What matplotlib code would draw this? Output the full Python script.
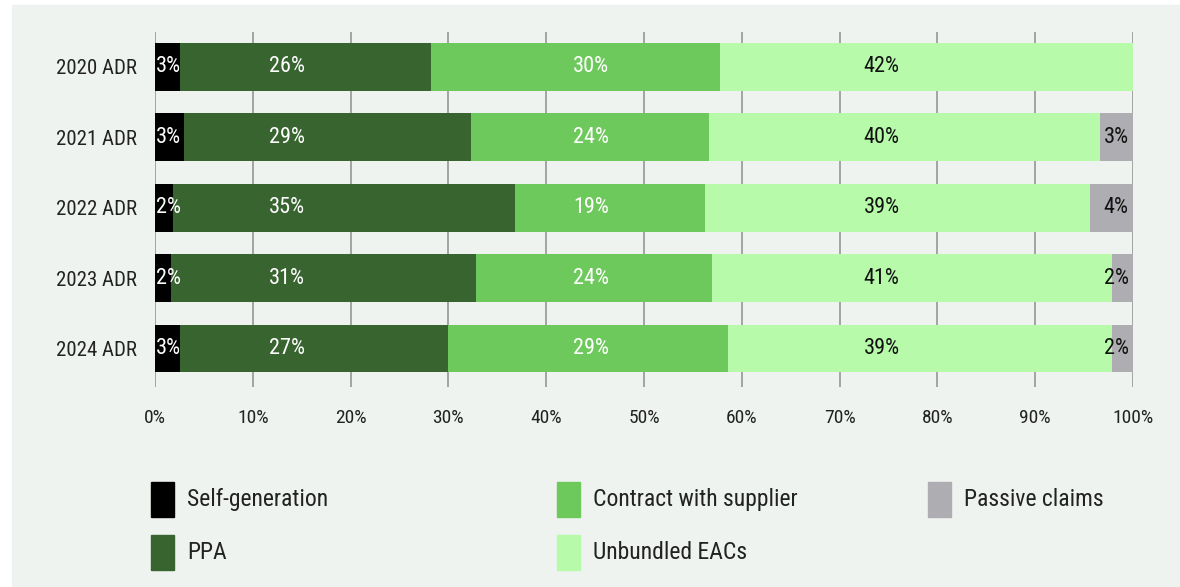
import matplotlib
matplotlib.use("Agg")
import matplotlib.pyplot as plt
from matplotlib.patches import Rectangle
import numpy as np

plt.rcParams['font.family'] = ['Roboto Condensed', 'Noto Sans Condensed', 'Open Sans Condensed', 'Roboto', 'DejaVu Sans']

years = ["2020 ADR", "2021 ADR", "2022 ADR", "2023 ADR", "2024 ADR"]
sources = ["Self-generation", "PPA", "Contract with supplier", "Unbundled EACs", "Passive claims"]

# share of each sourcing route per year, in %
self_gen = [2.6, 3.0, 1.8, 1.6, 2.6]
ppa = [25.6, 29.3, 35.0, 31.2, 27.4]
contract = [29.6, 24.3, 19.4, 24.2, 28.6]
unbundled = [42.2, 40.0, 39.4, 40.9, 39.3]
passive = [0.0, 3.4, 4.4, 2.1, 2.1]

ticks = np.arange(0, 101, 10)
tick_labels = [f"{t}%" for t in ticks]

colors = ["#000000", "#386430", "#6ec95c", "#b7fbaa", "#adadb2"]
text_colors = ["white", "white", "white", "#111111", "#111111"]
label_x = [1.4, 13.5, 44.6, 74.3, 98.3]

bg = "#eff3f0"
W, H = 1180, 587

fig = plt.figure(figsize=(11.8, 5.87), dpi=100, facecolor="white")
fig.add_artist(Rectangle((12 / W, 0), 1 - 12 / W, 1 - 5 / H,
                         transform=fig.transFigure, color=bg, zorder=-10))

ax = fig.add_axes([155 / W, 1 - 387 / H, (1133 - 155) / W, (387 - 32) / H])
ax.set_facecolor("none")

series = [self_gen, ppa, contract, unbundled, passive]
y = np.arange(len(years))
left = np.zeros(len(years))
for vals, name, c, tc, lx in zip(series, sources, colors, text_colors, label_x):
    vals = np.array(vals)
    ax.barh(y, vals, left=left, height=0.68, color=c, label=name, zorder=2)
    for i, v in enumerate(vals):
        if v > 0:
            ax.text(lx, i, f"{v:.0f}%", ha="center", va="center",
                    color=tc, fontsize=16, zorder=3)
    left += vals

ax.set_xlim(0, 100)
ax.set_ylim(4.547, -0.497)
ax.set_xticks(ticks)
ax.set_xticklabels(tick_labels, fontsize=14, color="#222222")
ax.set_yticks(y)
ax.set_yticklabels(years, fontsize=15, color="#222222")
ax.tick_params(axis="x", length=0, pad=16)
ax.tick_params(axis="y", length=0, pad=13)
ax.grid(axis="x", color="#a3a3a3", linewidth=1.4, zorder=0)
ax.set_axisbelow(True)
for s in ax.spines.values():
    s.set_visible(False)

# legend, three columns laid out by hand
leg_x = [151, 151, 557, 557, 928]
leg_y = [499.5, 552.5, 499.5, 552.5, 499.5]
for name, c, lx, ly in zip(sources, colors, leg_x, leg_y):
    fig.add_artist(Rectangle((lx / W, 1 - (ly + 17.5) / H), 23 / W, 35 / H,
                             transform=fig.transFigure, color=c))
    fig.text((lx + 36) / W, 1 - ly / H, name, ha="left", va="center",
             fontsize=17, color="#222222")

fig.savefig("out.png", dpi=100, facecolor=fig.get_facecolor())
